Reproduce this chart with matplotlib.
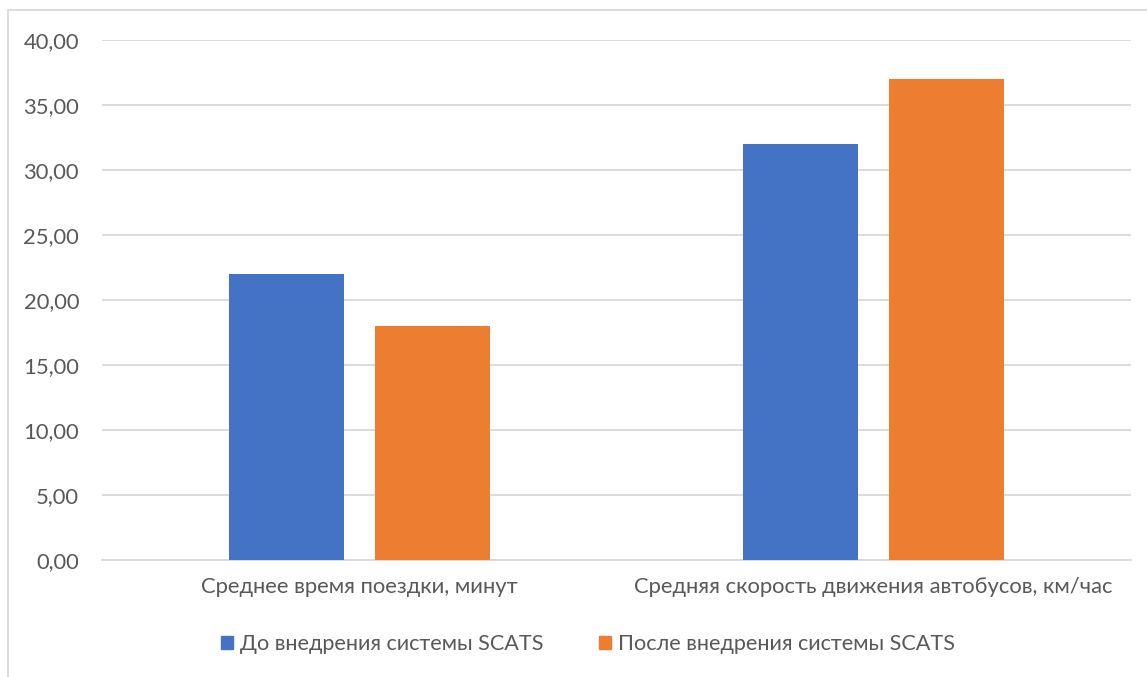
import numpy as np
import matplotlib.pyplot as plt
from matplotlib.patches import Rectangle, Patch
from matplotlib.ticker import FuncFormatter

categories = ['Среднее время поездки, минут', 'Средняя скорость движения автобусов, км/час']
before = [22, 32]
after = [18, 37]
series_names = ['До внедрения системы SCATS', 'После внедрения системы SCATS']

plt.rcParams['font.family'] = ['Lato', 'DejaVu Sans']

fig = plt.figure(figsize=(11.47, 6.77), dpi=100)
ax = fig.add_axes([102 / 1147, 1 - 560 / 677, 1029 / 1147, 520 / 677])

# рамка диаграммы
fig.patches.append(Rectangle((8 / 1147, -0.1), 1.2, 1 - 10 / 677 + 0.1, transform=fig.transFigure,
                             fill=False, edgecolor='#d9d9d9', linewidth=1.3))

x = np.arange(len(categories))
w = 0.2235
ax.bar(x - 0.1415, before, w, color='#4472c4', zorder=3)
ax.bar(x + 0.1415, after, w, color='#ed7d31', zorder=3)

ax.set_xlim(-0.5, 1.5)
ax.set_ylim(0, 40)
ax.set_yticks(np.arange(0, 41, 5))
ax.yaxis.set_major_formatter(FuncFormatter(lambda v, p: f'{v:.2f}'.replace('.', ',')))
ax.grid(axis='y', color='#d9d9d9', linewidth=1.3, zorder=0)
for s in ['top', 'right', 'left']:
    ax.spines[s].set_visible(False)
ax.spines['bottom'].set_color('#d9d9d9')
ax.spines['bottom'].set_linewidth(1.3)
ax.tick_params(length=0, labelsize=15.8, labelcolor='#595959')
ax.tick_params(axis='y', pad=16.5)
ax.tick_params(axis='x', pad=12)
ax.set_xticks(x)
ax.set_xticklabels(categories)

handles = [Patch(color='#4472c4'), Patch(color='#ed7d31')]
fig.legend(handles, series_names, loc='center', bbox_to_anchor=(588 / 1147, 1 - 644 / 677),
           ncol=2, frameon=False, fontsize=15.6, labelcolor='#595959',
           handlelength=0.55, handleheight=0.55, handletextpad=0.3, columnspacing=2.6)

fig.savefig('out.png', dpi=100)
